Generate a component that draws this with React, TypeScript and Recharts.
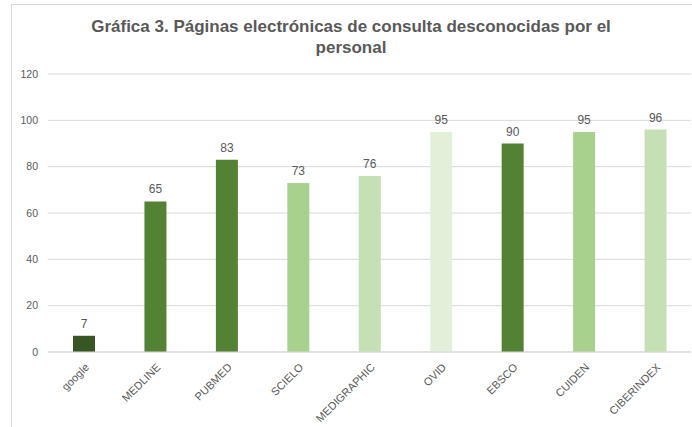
import { BarChart, Bar, XAxis, YAxis, CartesianGrid, Cell, LabelList } from 'recharts';

const categories = ['google', 'MEDLINE', 'PUBMED', 'SCIELO', 'MEDIGRAPHIC', 'OVID', 'EBSCO', 'CUIDEN', 'CIBERINDEX'];
const values = [7, 65, 83, 73, 76, 95, 90, 95, 96];
const barColors = ['#375623', '#548235', '#548235', '#a9d18e', '#c5e0b4', '#e2f0d9', '#548235', '#a9d18e', '#c5e0b4'];
const yTicks = [0, 20, 40, 60, 80, 100, 120];

const data = categories.map((name, i) => ({ name, value: values[i] }));

const FONT = '"Liberation Sans", Arial, Helvetica, sans-serif';
const TEXT = '#595959';

function XTick(props: any) {
  const { x, y, payload } = props;
  return (
    <g transform={`translate(${x + 6},${y + 8})`}>
      <text x={0} y={0} textAnchor="end" transform="rotate(-45)" fill={TEXT} fontSize={11} fontFamily={FONT}>
        {payload.value}
      </text>
    </g>
  );
}

export default function App() {
  return (
    <div style={{ position: 'absolute', left: 0, top: 0, width: 692, height: 427, background: '#fff', overflow: 'hidden' }}>
      {/* chart frame */}
      <div style={{ position: 'absolute', left: 11, top: 4, width: 700, height: 440, border: '1px solid #d9d9d9' }} />
      <div
        style={{
          position: 'absolute',
          left: 5,
          top: 16,
          width: 692,
          textAlign: 'center',
          fontFamily: FONT,
          fontWeight: 'bold',
          fontSize: 17,
          lineHeight: '21px',
          color: TEXT,
        }}
      >
        Gráfica 3. Páginas electrónicas de consulta desconocidas por el
        <br />
        personal
      </div>
      <div style={{ position: 'absolute', left: 0, top: 0 }}>
        <BarChart width={692} height={427} data={data} margin={{ top: 74, right: 1, bottom: 0, left: 0 }}>
          <CartesianGrid vertical={false} stroke="#d9d9d9" />
          <XAxis
            dataKey="name"
            height={75}
            interval={0}
            tickLine={false}
            axisLine={{ stroke: '#d9d9d9' }}
            tick={<XTick />}
          />
          <YAxis
            width={48}
            domain={[0, 120]}
            ticks={yTicks}
            tickLine={false}
            axisLine={false}
            tickMargin={4}
            tick={{ fill: TEXT, fontSize: 10.5, fontFamily: FONT }}
          />
          <Bar dataKey="value" barSize={22} isAnimationActive={false}>
            {data.map((_, i) => (
              <Cell key={i} fill={barColors[i]} />
            ))}
            <LabelList dataKey="value" position="top" offset={8} fill={TEXT} fontSize={12} fontFamily={FONT} />
          </Bar>
        </BarChart>
      </div>
    </div>
  );
}
